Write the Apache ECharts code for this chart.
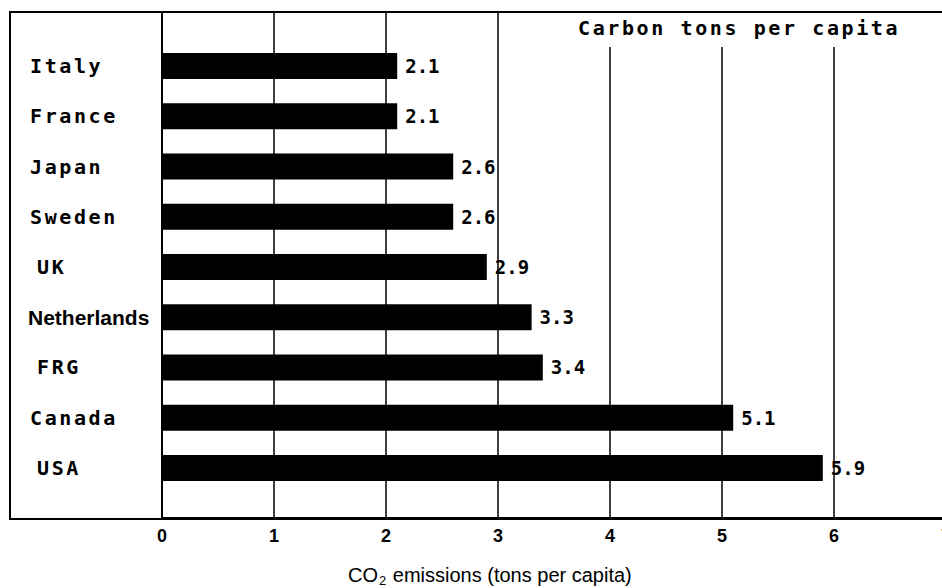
<!DOCTYPE html>
<html>
<head>
<meta charset="utf-8">
<script src="https://cdn.jsdelivr.net/npm/echarts@6/dist/echarts.min.js"></script>
<style>
  html, body { margin: 0; padding: 0; background: #fff; }
  #chart { width: 942px; height: 588px; }
  #chart text[style*="20px"][style*="Mono"] { letter-spacing: 2.6px; }
</style>
</head>
<body>
<div id="chart"></div>
<script>
// ---- data ----
const categories = ['Italy', 'France', 'Japan', 'Sweden', 'UK', 'Netherlands', 'FRG', 'Canada', 'USA'];
const values = [2.1, 2.1, 2.6, 2.6, 2.9, 3.3, 3.4, 5.1, 5.9];
const axisMin = 0;
const axisMax = 7;
const axisStep = 1;
const fullGridLines = [1, 2, 3];
const shortGridLines = [4, 5, 6];
const panelTitle = 'Carbon tons per capita';
const axisTitle = ['CO', '2', ' emissions (tons per capita)'];

// ---- chart ----
const chart = echarts.init(document.getElementById('chart'), null, { renderer: 'svg' });
const monoFont = '"DejaVu Sans Mono", "Liberation Mono", monospace';
const sansFont = '"Liberation Sans", Arial, sans-serif';
const narrowFont = '"Liberation Sans Narrow", "Liberation Sans", Arial, sans-serif';

const hiddenValueAxis = (grid) => ({
  type: 'value', gridIndex: grid, min: axisMin, max: axisMax, show: false
});

const option = {
  animation: false,
  backgroundColor: '#fff',
  title: [
    {
      text: panelTitle,
      left: 578, top: 18, padding: 0,
      textStyle: { fontFamily: monoFont, fontSize: 20, fontWeight: 'bold', color: '#000' }
    },
    {
      text: '{a|' + axisTitle[0] + '}{s|' + axisTitle[1] + '}{a|' + axisTitle[2] + '}',
      left: 348, top: 565, padding: 0,
      textStyle: {
        rich: {
          a: { fontFamily: narrowFont, fontSize: 20, fontWeight: 'normal', color: '#000', lineHeight: 20, verticalAlign: 'middle' },
          s: { fontFamily: narrowFont, fontSize: 13, fontWeight: 'normal', color: '#000', lineHeight: 13, verticalAlign: 'middle', padding: [10, 1, 0, 1] }
        }
      }
    }
  ],
  grid: [
    { left: 10, top: 12, width: 980, height: 507, show: true, borderColor: '#000', borderWidth: 2, backgroundColor: 'transparent', outerBoundsMode: 'none', containLabel: false },
    { left: 162, top: 13, width: 784, height: 505, outerBoundsMode: 'none', containLabel: false },
    { left: 162, top: 47, width: 784, height: 471, outerBoundsMode: 'none', containLabel: false },
    { left: 162, top: 41, width: 784, height: 452, outerBoundsMode: 'none', containLabel: false }
  ],
  xAxis: [
    hiddenValueAxis(0),
    {
      type: 'value', gridIndex: 1, min: axisMin, max: axisMax, interval: axisStep,
      axisLine: { show: true, lineStyle: { color: '#000', width: 2 } },
      axisTick: { show: false },
      splitLine: { show: false },
      axisLabel: { color: '#000', fontFamily: sansFont, fontWeight: 'bold', fontSize: 18, margin: 9 }
    },
    hiddenValueAxis(2),
    hiddenValueAxis(3)
  ],
  yAxis: [
    { type: 'value', gridIndex: 0, show: false },
    {
      type: 'value', gridIndex: 1, min: 0, max: 1,
      axisLine: { show: true, lineStyle: { color: '#000', width: 2 } },
      axisTick: { show: false }, axisLabel: { show: false }, splitLine: { show: false }
    },
    { type: 'value', gridIndex: 2, min: 0, max: 1, show: false },
    {
      type: 'category', gridIndex: 3, data: categories, inverse: true,
      axisLine: { show: false }, axisTick: { show: false }, splitLine: { show: false },
      axisLabel: {
        margin: 132, align: 'left', color: '#000',
        fontFamily: monoFont, fontSize: 20, fontWeight: 'bold',
        formatter: (v) => {
          if (v === 'Netherlands') return '{n|' + v + '}';
          if (v.length <= 3) return '{i|' + v + '}';
          return v;
        },
        rich: {
          n: { fontFamily: sansFont, fontSize: 21, fontWeight: 'bold', color: '#000', padding: [0, 0, 0, -2] },
          i: { fontFamily: monoFont, fontSize: 20, fontWeight: 'bold', color: '#000', padding: [0, 0, 0, 7] }
        }
      }
    }
  ],
  series: [
    {
      type: 'line', xAxisIndex: 1, yAxisIndex: 1, data: [], silent: true,
      markLine: {
        silent: true, symbol: 'none', label: { show: false },
        lineStyle: { color: '#000', type: 'solid', width: 1.5 },
        data: fullGridLines.map(v => ({ xAxis: v }))
      }
    },
    {
      type: 'line', xAxisIndex: 2, yAxisIndex: 2, data: [], silent: true,
      markLine: {
        silent: true, symbol: 'none', label: { show: false },
        lineStyle: { color: '#000', type: 'solid', width: 1.5 },
        data: shortGridLines.map(v => ({ xAxis: v }))
      }
    },
    {
      type: 'bar', xAxisIndex: 3, yAxisIndex: 3, z: 5,
      data: values, barWidth: 26,
      itemStyle: { color: '#000' },
      label: {
        show: true, position: 'right', distance: 8, color: '#000',
        fontFamily: monoFont, fontSize: 19, fontWeight: 'bold',
        formatter: (p) => p.value.toFixed(1)
      }
    }
  ]
};
chart.setOption(option);
</script>
</body>
</html>
